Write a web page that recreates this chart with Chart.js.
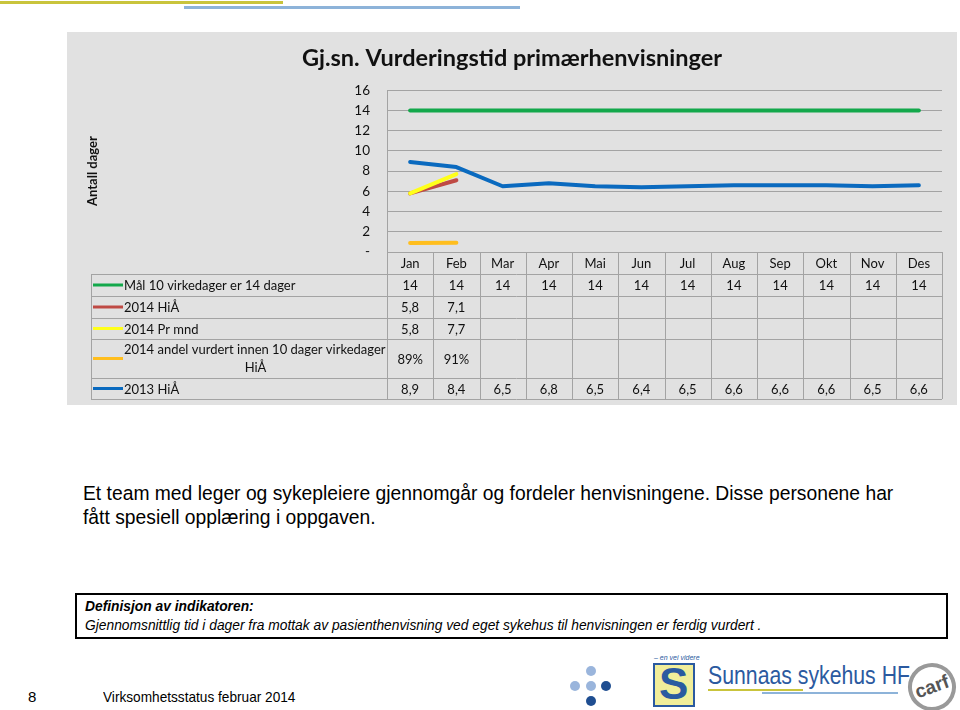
<!DOCTYPE html>
<html>
<head>
<meta charset="utf-8">
<script src="https://cdn.jsdelivr.net/npm/chart.js@4"></script>
<style>
  body { margin: 0; width: 960px; height: 710px; background: #fff; position: relative; overflow: hidden; font-family: "Liberation Sans", Arial, sans-serif; }
  .deco1 { position: absolute; left: 0; top: 1px; width: 283px; height: 3px; background: #c9c43c; }
  .deco2 { position: absolute; left: 184px; top: 6px; width: 336px; height: 3px; background: #8db3d9; }
  #chartBox { position: absolute; left: 67px; top: 32px; width: 890px; height: 373px; background: #e1e1e1; }
  .body-text { position: absolute; left: 83px; top: 482px; width: 840px; font-size: 19.3px; line-height: 24px; color: #000; }
  .def-box { position: absolute; left: 75px; top: 593px; width: 861px; height: 40px; border: 2px solid #000; font-size: 13.8px; line-height: 19px; font-style: italic; padding: 2px 0 0 8px; box-sizing: content-box; }
  .def-box b { font-weight: bold; }
  .footer-num { position: absolute; left: 28px; top: 688px; font-size: 15px; }
  .footer-text { position: absolute; left: 103px; top: 688px; font-size: 15px; transform: scaleX(0.91); transform-origin: left center; }
  .dot { position: absolute; width: 10px; height: 10px; border-radius: 50%; }
  .light { background: #9ab5dc; }
  .dark { background: #1f4e91; }
  .slogo { position: absolute; left: 653px; top: 663px; width: 38px; height: 40px; border: 2px solid #2b5aa0; background: #f1ee9a; overflow: hidden; }
  .slogo span { position: absolute; left: 4px; top: -6px; font-size: 44px; font-weight: bold; color: #2b5aa0; }
  .slogo-top { position: absolute; left: 654px; top: 654px; font-size: 7px; font-style: italic; color: #2b5aa0; }
  .sunnaas { position: absolute; left: 708px; top: 661px; font-size: 25px; color: #2b5aa0; transform: scaleX(0.85); transform-origin: left center; }
  .ul1 { position: absolute; left: 708px; top: 689px; width: 95px; height: 2px; background: #c9c43c; }
  .ul2 { position: absolute; left: 762px; top: 692px; width: 136px; height: 2px; background: #8db3d9; }
  .carf { position: absolute; left: 908px; top: 663px; width: 40px; height: 40px; border: 4px solid #999; border-radius: 50%; font-size: 19px; font-weight: bold; color: #555; text-align: center; line-height: 40px; transform: rotate(-20deg); }
</style>
</head>
<body>
<div class="deco1"></div>
<div class="deco2"></div>
<div id="chartBox"><canvas id="vurderingChart" width="890" height="373"></canvas></div>

<div class="body-text">Et team med leger og sykepleiere gjennomgår og fordeler henvisningene. Disse personene har fått spesiell opplæring i oppgaven.</div>

<div class="def-box"><b>Definisjon av indikatoren:</b><br>Gjennomsnittlig tid i dager fra mottak av pasienthenvisning ved eget sykehus til henvisningen er ferdig vurdert .</div>

<div class="footer-num">8</div>
<div class="footer-text">Virksomhetsstatus februar 2014</div>

<div class="dot light" style="left:586px;top:666px"></div>
<div class="dot light" style="left:570px;top:681px"></div>
<div class="dot light" style="left:586px;top:681px"></div>
<div class="dot dark" style="left:601px;top:681px"></div>
<div class="dot dark" style="left:586px;top:696px"></div>
<div class="slogo-top">– en vei videre</div>
<div class="slogo"><span>S</span></div>
<div class="sunnaas">Sunnaas sykehus HF</div>
<div class="ul1"></div>
<div class="ul2"></div>
<div class="carf">carf</div>

<script>
// Data
const months = ['Jan', 'Feb', 'Mar', 'Apr', 'Mai', 'Jun', 'Jul', 'Aug', 'Sep', 'Okt', 'Nov', 'Des'];
const maal = [14, 14, 14, 14, 14, 14, 14, 14, 14, 14, 14, 14];
const hia2014 = [5.8, 7.1, null, null, null, null, null, null, null, null, null, null];
const prMnd2014 = [5.8, 7.7, null, null, null, null, null, null, null, null, null, null];
const andel2014 = [0.89, 0.91, null, null, null, null, null, null, null, null, null, null];
const hia2013 = [8.9, 8.4, 6.5, 6.8, 6.5, 6.4, 6.5, 6.6, 6.6, 6.6, 6.5, 6.6];
const yTicks = [0, 2, 4, 6, 8, 10, 12, 14, 16];

const FONT = 'Lato, "Open Sans", sans-serif';
const GRID = '#a3a3a3';

function fmt(v, pct) {
    if (v === null) return '';
    if (pct) return Math.round(v * 100) + '%';
    return String(v).replace('.', ',');
}

// Draws the data table under the plot, column positions come from the x scale
const tablePlugin = {
    id: 'dataTable',
    afterDraw(chart) {
        const ctx = chart.ctx;
        const xs = chart.scales.x;
        const area = chart.chartArea;
        const colW = xs.getPixelForValue(1) - xs.getPixelForValue(0);
        const tableLeft = 24;
        const rowOffsets = [0, 22, 44, 66, 87, 126, 147];
        const rows = rowOffsets.map(o => area.bottom + o);
        const ds = chart.data.datasets;

        ctx.save();
        ctx.strokeStyle = GRID;
        ctx.lineWidth = 1;

        // horizontal lines
        for (let r = 1; r < rows.length; r++) {
            ctx.beginPath();
            ctx.moveTo(tableLeft, Math.round(rows[r]) + 0.5);
            ctx.lineTo(area.right, Math.round(rows[r]) + 0.5);
            ctx.stroke();
        }
        // vertical lines
        for (let i = 0; i <= months.length; i++) {
            const x = Math.round(area.left + i * colW) + 0.5;
            ctx.beginPath();
            ctx.moveTo(x, area.bottom);
            ctx.lineTo(x, rows[rows.length - 1]);
            ctx.stroke();
        }
        ctx.beginPath();
        ctx.moveTo(tableLeft + 0.5, rows[1]);
        ctx.lineTo(tableLeft + 0.5, rows[rows.length - 1]);
        ctx.stroke();

        ctx.fillStyle = '#111';
        ctx.textBaseline = 'middle';
        ctx.font = '13px ' + FONT;

        // month header
        ctx.textAlign = 'center';
        months.forEach((m, i) => {
            ctx.fillText(m, xs.getPixelForValue(i), (rows[0] + rows[1]) / 2 + 1);
        });

        // series rows
        ds.forEach((d, r) => {
            const top = rows[r + 1];
            const bot = rows[r + 2];
            const mid = (top + bot) / 2;
            ctx.strokeStyle = d.borderColor;
            ctx.lineWidth = 3;
            ctx.beginPath();
            ctx.moveTo(tableLeft + 2, mid);
            ctx.lineTo(tableLeft + 32, mid);
            ctx.stroke();

            ctx.fillStyle = '#111';
            if (d.wrap) {
                ctx.textAlign = 'left';
                ctx.fillText(d.wrap[0], tableLeft + 33, mid - 9);
                ctx.textAlign = 'center';
                ctx.fillText(d.wrap[1], (tableLeft + 33 + area.left) / 2, mid + 9);
            } else {
                ctx.textAlign = 'left';
                ctx.fillText(d.label, tableLeft + 33, mid + 1);
            }
            ctx.textAlign = 'center';
            d.data.forEach((v, i) => {
                ctx.fillText(fmt(v, d.pct), xs.getPixelForValue(i), mid + 1);
            });
        });
        ctx.restore();
    }
};

const ctx = document.getElementById('vurderingChart').getContext('2d');
new Chart(ctx, {
    type: 'line',
    data: {
        labels: months,
        datasets: [{
            label: 'Mål 10 virkedager er 14 dager',
            data: maal,
            borderColor: '#13a84b'
        }, {
            label: '2014 HiÅ',
            data: hia2014,
            borderColor: '#bf4a44',
            order: 1
        }, {
            label: '2014 Pr mnd',
            data: prMnd2014,
            borderColor: '#ffff1a'
        }, {
            label: '2014 andel vurdert innen 10 dager virkedager HiÅ',
            wrap: ['2014 andel vurdert innen 10 dager virkedager', 'HiÅ'],
            data: andel2014,
            borderColor: '#ffbe1e',
            pct: true
        }, {
            label: '2013 HiÅ',
            data: hia2013,
            borderColor: '#0a6abf'
        }]
    },
    options: {
        responsive: false,
        animation: false,
        layout: { padding: { top: 0, left: 15, right: 15, bottom: 153 } },
        elements: {
            line: { borderWidth: 4, tension: 0, borderCapStyle: 'round', borderJoinStyle: 'round' },
            point: { radius: 0 }
        },
        plugins: {
            legend: { display: false },
            tooltip: { enabled: false },
            title: {
                display: true,
                text: 'Gj.sn. Vurderingstid primærhenvisninger',
                color: '#111',
                font: { family: FONT, size: 23.5, weight: 'bold' },
                padding: { top: 12, bottom: 18 }
            }
        },
        scales: {
            x: {
                type: 'category',
                offset: true,
                display: false
            },
            y: {
                min: 0,
                max: 16,
                afterFit(scale) { scale.width = 305; },
                afterBuildTicks(scale) { scale.ticks = yTicks.map(v => ({ value: v })); },
                ticks: {
                    padding: 17,
                    color: '#111',
                    font: { family: FONT, size: 13.5 },
                    callback: v => (v === 0 ? '-' : v)
                },
                grid: { color: GRID, drawTicks: false },
                border: { display: true, color: GRID },
                title: {
                    display: true,
                    text: 'Antall dager',
                    color: '#111',
                    font: { family: FONT, size: 13, weight: 'bold' },
                    padding: { top: 3, bottom: 0 }
                }
            }
        }
    },
    plugins: [tablePlugin]
});
</script>
</body>
</html>
